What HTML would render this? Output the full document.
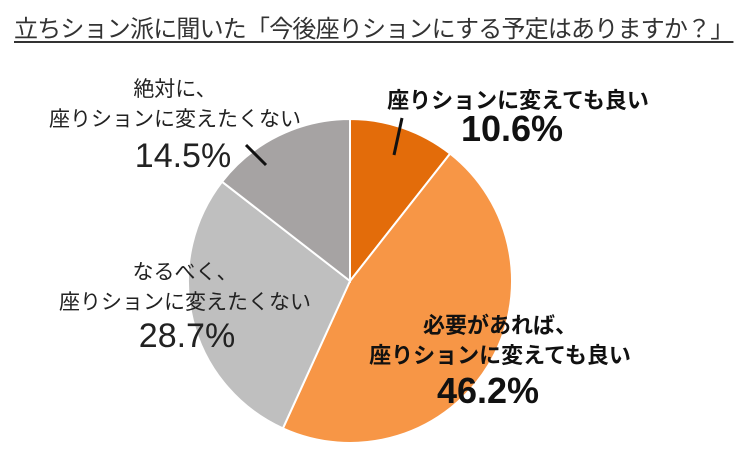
<!DOCTYPE html>
<html><head><meta charset="utf-8"><style>
body{margin:0;background:#fff;width:743px;height:458px;overflow:hidden;font-family:"Liberation Sans","Noto Sans CJK JP",sans-serif;}
.t{position:absolute;white-space:nowrap;color:#222;text-align:center}
</style></head><body>
<div class="t" style="left:14px;top:9px;width:712px;font-size:24px;text-decoration:underline;text-underline-offset:4px;color:#333;letter-spacing:-0.8px">立ちション派に聞いた「今後座りションにする予定はありますか？」</div>
<svg width="743" height="458" style="position:absolute;left:0;top:0">
<g id="slices"></g>
<line x1="402" y1="118" x2="394" y2="155" stroke="#111" stroke-width="3"/>
<line x1="246" y1="145" x2="266" y2="165" stroke="#111" stroke-width="3"/>
</svg>
<div class="t" style="left:368px;top:83px;width:300px;font-size:22px;font-weight:bold;color:#111">座りションに変えても良い</div>
<div class="t" style="left:412px;top:108px;width:200px;font-size:36px;font-weight:bold;color:#111">10.6%</div>
<div class="t" style="left:40px;top:75px;width:270px;font-size:21px;line-height:30px;color:#222">絶対に、<br>座りションに変えたくない</div>
<div class="t" style="left:108px;top:137px;width:150px;font-size:34px;color:#222">14.5%</div>
<div class="t" style="left:55px;top:258px;width:260px;font-size:21px;line-height:30px;color:#222">なるべく、<br>座りションに変えたくない</div>
<div class="t" style="left:112px;top:317px;width:150px;font-size:34px;color:#222">28.7%</div>
<div class="t" style="left:350px;top:311px;width:300px;font-size:22px;line-height:30px;font-weight:bold;color:#111">必要があれば、<br>座りションに変えても良い</div>
<div class="t" style="left:388px;top:370px;width:200px;font-size:36px;font-weight:bold;color:#111">46.2%</div>
<script>
const categories=["座りションに変えても良い","必要があれば、座りションに変えても良い","なるべく、座りションに変えたくない","絶対に、座りションに変えたくない"];
const values=[10.6,46.2,28.7,14.5];
const colors=["#E36C0A","#F79646","#BFBFBF","#A6A3A3"];
const cx=350,cy=281,r=162;
const g=document.getElementById('slices');
const total=values.reduce((a,b)=>a+b,0);
let a0=-Math.PI/2;
values.forEach((v,i)=>{
 const a1=a0+v/total*2*Math.PI;
 const x0=cx+r*Math.cos(a0),y0=cy+r*Math.sin(a0),x1=cx+r*Math.cos(a1),y1=cy+r*Math.sin(a1);
 const p=document.createElementNS('http://www.w3.org/2000/svg','path');
 p.setAttribute('d',`M${cx},${cy}L${x0},${y0}A${r},${r} 0 ${a1-a0>Math.PI?1:0} 1 ${x1},${y1}Z`);
 p.setAttribute('fill',colors[i]);p.setAttribute('stroke','#fff');p.setAttribute('stroke-width','2');
 
 
 g.appendChild(p);a0=a1;
});
</script>
</body></html>
